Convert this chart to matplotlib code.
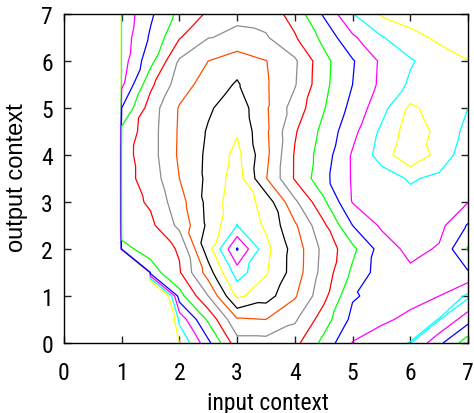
import numpy as np
import matplotlib
matplotlib.use("Agg")
import matplotlib.pyplot as plt
import matplotlib.tri as mtri
from matplotlib import font_manager as fm

# grid positions (input context = x, output context = y)
input_context = [0, 0.5, 1, 1.5, 2, 2.5, 3, 3.5, 4, 4.5, 5, 5.5, 6, 6.5, 7]
output_context = [0, 0.5, 1, 1.5, 2, 2.5, 3, 3.5, 4, 4.5, 5, 5.5, 6, 6.5, 7]

# score, one row per output context (0 = no data)
score_y0_0 = [0, 0, 0, 75.0, 81.0, 83.75, 86.6, 86.6, 86.3, 84.7, 82.95, 82.4, 81.95, 83.75, 85.6]
score_y0_5 = [0, 0, 0, 75.0, 82.3, 85.2, 87.9, 88.0, 87.15, 85.5, 83.73, 83.2, 82.75, 81.95, 83.6]
score_y1_0 = [0, 0, 0, 75.0, 84.6, 87.0, 90.2, 89.43, 88.12, 86.3, 84.1, 83.7, 83.35, 83.0, 81.8]
score_y1_5 = [0, 0, 0, 84.5, 85.9, 88.5, 91.5, 90.1, 88.55, 86.6, 84.8, 83.5, 83.2, 83.5, 83.9]
score_y2_0 = [0, 0, 84.7, 85.4, 86.1, 89.6, 93.1, 90.3, 88.57, 86.7, 85.25, 83.57, 82.7, 83.1, 85.1]
score_y2_5 = [0, 0, 85.5, 85.76, 87.25, 89.23, 91.02, 89.83, 88.16, 86.2, 84.0, 82.85, 82.6, 82.7, 84.1]
score_y3_0 = [0, 0, 85.5, 86.15, 87.6, 89.3, 90.7, 89.6, 87.2, 85.2, 82.95, 82.6, 82.3, 82.5, 82.97]
score_y3_5 = [0, 0, 85.6, 86.43, 88.0, 89.23, 90.5, 88.06, 85.9, 84.3, 82.9, 82.45, 81.9, 82.2, 82.8]
score_y4_0 = [0, 0, 85.6, 86.58, 88.16, 89.2, 90.3, 88.25, 85.91, 84.5, 82.89, 81.6, 80.1, 81.4, 82.6]
score_y4_5 = [0, 0, 85.3, 86.58, 88.13, 89.1, 89.9, 88.17, 86.1, 84.72, 83.29, 81.81, 80.5, 81.23, 82.3]
score_y5_0 = [0, 0, 84.0, 86.5, 88.08, 88.86, 89.6, 88.12, 86.56, 85.07, 83.69, 82.36, 80.8, 81.44, 82.0]
score_y5_5 = [0, 0, 82.8, 85.77, 87.53, 88.46, 89.1, 88.1, 87.08, 85.26, 84.0, 82.78, 81.85, 81.5, 81.5]
score_y6_0 = [0, 0, 82.5, 84.68, 87.12, 88.0, 88.6, 88.03, 87.16, 85.3, 84.09, 82.83, 82.1, 81.5, 81.02]
score_y6_5 = [0, 0, 82.4, 84.15, 85.93, 86.97, 87.15, 87.1, 86.1, 84.72, 83.17, 82.08, 81.34, 80.8, 80.6]
score_y7_0 = [0, 0, 82.3, 83.83, 85.28, 86.14, 86.85, 86.6, 85.6, 83.88, 82.04, 80.89, 80.5, 80.3, 80.2]

contour_levels = [81, 82, 83, 84, 85, 86, 87, 88, 89, 90, 91, 92, 93]
level_colors = ["#ffff00", "#00ffff", "#ff00ff", "#0000ff", "#00ff00", "#ff0000",
                "#8c8c8c", "#ff4d00", "#000000", "#ffff00", "#00ffff", "#ff00ff", "#0000ff"]

x_ticks = [0, 1, 2, 3, 4, 5, 6, 7]
y_ticks = [0, 1, 2, 3, 4, 5, 6, 7]

Z = np.array([score_y0_0, score_y0_5, score_y1_0, score_y1_5, score_y2_0, score_y2_5,
              score_y3_0, score_y3_5, score_y4_0, score_y4_5, score_y5_0, score_y5_5,
              score_y6_0, score_y6_5, score_y7_0])
X, Y = np.meshgrid(input_context, output_context)
nx = len(input_context)
ny = len(output_context)
zf = Z.ravel()

# split each grid cell along the diagonal whose corners differ least
triangles = []
for j in range(ny - 1):
    for i in range(nx - 1):
        a = j * nx + i
        b = a + 1
        c = a + nx
        d = c + 1
        if abs(zf[a] - zf[d]) <= abs(zf[b] - zf[c]):
            triangles += [[a, b, d], [a, d, c]]
        else:
            triangles += [[a, b, c], [b, d, c]]
tri = mtri.Triangulation(X.ravel(), Y.ravel(), triangles)


def pick_narrow_font():
    wanted = ["Liberation Sans Narrow", "Arial Narrow", "Roboto Condensed",
              "Noto Sans Condensed", "Open Sans Condensed"]
    for w in wanted:
        for f in fm.fontManager.ttflist:
            full = (f.name + " " + str(f.stretch)).lower()
            base = w.split()[0].lower()
            if not f.name.lower().startswith(base) or f.style != "normal":
                continue
            if f.weight not in (400, "normal", "regular", "book"):
                continue
            tag = w.split()[-1].lower()
            if tag in f.name.lower() or (tag == "condensed" and str(f.stretch).lower() == "condensed") \
                    or (tag == "narrow" and "narrow" in full):
                if "mono" in full or "semi" in full or "extra" in full:
                    continue
                return fm.FontProperties(fname=f.fname, size=17)
    return fm.FontProperties(family="Liberation Sans", size=15.5)


tick_font = pick_narrow_font()
ylabel_font = fm.FontProperties(family="Liberation Sans", size=17)

fig = plt.figure(figsize=(4.74, 4.14), dpi=100)
ax = fig.add_axes([64 / 474, 70 / 414, 404 / 474, 329 / 414])
ax.tricontour(tri, zf, levels=contour_levels, colors=level_colors, linewidths=0.9)

ax.set_xlim(0, 7)
ax.set_ylim(0, 7)
ax.set_xticks(x_ticks)
ax.set_yticks(y_ticks)
ax.set_xticklabels([str(t) for t in x_ticks], fontproperties=tick_font)
ax.set_yticklabels([str(t) for t in y_ticks], fontproperties=tick_font)
ax.tick_params(direction="in", length=5, width=1.0, top=True, right=True, color="#222222")
ax.tick_params(axis="x", pad=13)
ax.tick_params(axis="y", pad=8)
for s in ax.spines.values():
    s.set_linewidth(1.0)
    s.set_color("black")

fig.text(268 / 474, 1 - 403.5 / 414, "input context", ha="center", va="center",
         fontproperties=tick_font)
fig.text(17.5 / 474, 1 - 178 / 414, "output context", ha="center", va="center",
         rotation=90, fontproperties=ylabel_font)

fig.savefig("out.png", dpi=100)
